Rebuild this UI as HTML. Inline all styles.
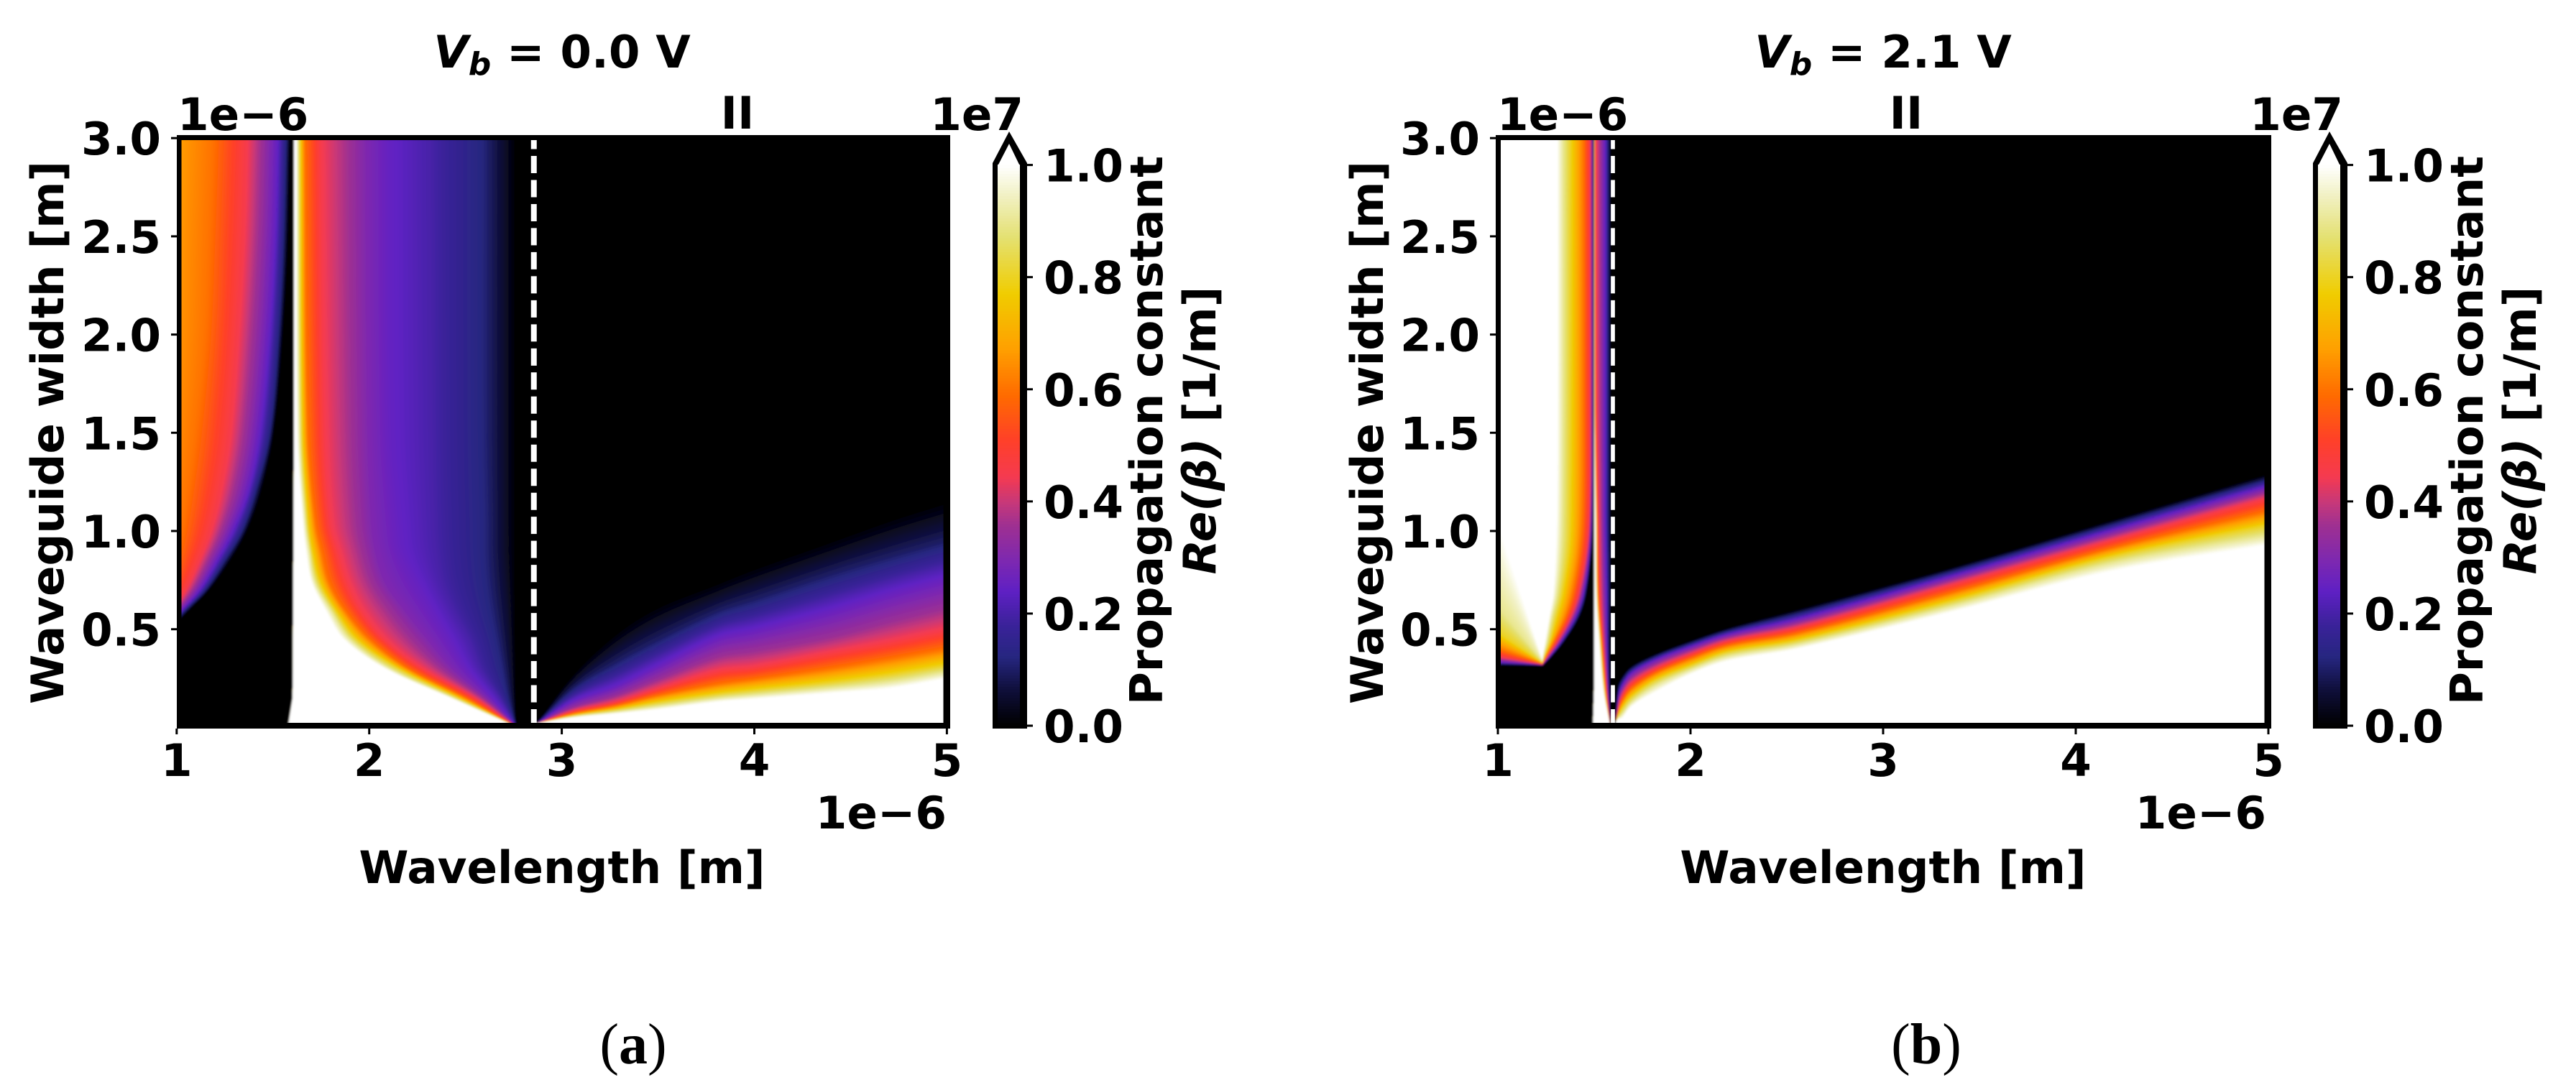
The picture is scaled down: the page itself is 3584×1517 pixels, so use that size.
<!DOCTYPE html>
<html lang="en">
<head>
<meta charset="utf-8">
<title>Propagation constant maps</title>
<style>
html,body{margin:0;padding:0;background:#fff;width:3584px;height:1517px;overflow:hidden}
svg{display:block}
text{font-family:"DejaVu Sans","Liberation Sans",sans-serif;font-weight:700;font-size:62.7px;fill:#000}
.serif{font-family:"Liberation Serif",serif;font-weight:400;font-size:80px}
</style>
</head>
<body>
<svg id="figure" xmlns="http://www.w3.org/2000/svg" width="3584" height="1517" viewBox="0 0 3584 1517">
<defs>
<filter id="soft" filterUnits="userSpaceOnUse" x="200" y="150" width="3000" height="900"><feGaussianBlur stdDeviation="1.4"/></filter>
<clipPath id="clip-a"><rect x="252" y="195" width="1060.5" height="811"/></clipPath>
<clipPath id="clip-b"><rect x="2088" y="195" width="1062.5" height="811"/></clipPath>
</defs>
<rect x="0" y="0" width="3584" height="1517" fill="#fff"/>
<g id="panel-a"></g>
<g id="panel-b"></g>

<text x="782" y="94" text-anchor="middle"><tspan font-style="italic">V</tspan><tspan font-style="italic" font-size="44" dy="10">b</tspan><tspan dy="-10"> = 0.0 V</tspan></text>
<text x="2620" y="94" text-anchor="middle"><tspan font-style="italic">V</tspan><tspan font-style="italic" font-size="44" dy="10">b</tspan><tspan dy="-10"> = 2.1 V</tspan></text>

<text x="1026" y="179" text-anchor="middle">II</text>
<text x="2652" y="179" text-anchor="middle">II</text>

<text x="247" y="181">1e−6</text>
<text x="2083" y="181">1e−6</text>
<text x="1424" y="181" text-anchor="end">1e7</text>
<text x="3260" y="181" text-anchor="end">1e7</text>
<text x="1317" y="1153" text-anchor="end">1e−6</text>
<text x="3153" y="1153" text-anchor="end">1e−6</text>

<text x="782" y="1229" text-anchor="middle">Wavelength [m]</text>
<text x="2620" y="1229" text-anchor="middle">Wavelength [m]</text>

<text transform="translate(88 602) rotate(-90)" text-anchor="middle">Waveguide width [m]</text>
<text transform="translate(1924 602) rotate(-90)" text-anchor="middle">Waveguide width [m]</text>

<text transform="translate(1617 599) rotate(-90)" text-anchor="middle">Propagation constant</text>
<text transform="translate(1691 599) rotate(-90)" text-anchor="middle"><tspan font-style="italic">Re(β)</tspan> [1/m]</text>
<text transform="translate(3454 599) rotate(-90)" text-anchor="middle">Propagation constant</text>
<text transform="translate(3528 599) rotate(-90)" text-anchor="middle"><tspan font-style="italic">Re(β)</tspan> [1/m]</text>

<text class="serif" x="881" y="1480" text-anchor="middle">(<tspan font-weight="700">a</tspan>)</text>
<text class="serif" x="2680" y="1480" text-anchor="middle">(<tspan font-weight="700">b</tspan>)</text>
</svg>

<script>
// ---------- tick data ----------
const xTickValues = [1, 2, 3, 4, 5];
const yTickValues = [0.5, 1.0, 1.5, 2.0, 2.5, 3.0];
const cbarTickValues = [0, 0.2, 0.4, 0.6, 0.8, 1.0];

// ---------- colour scale ----------
const cmapLevels = [0, .064, .123, .18, .24, .295, .36, .4, .445, .51, .588, .673, .77, .87, .95, 1];
const cmapColors = ['#000000','#0f0f3a','#262680','#3a2299','#5f20c4','#7d28b0','#a03090','#c83878','#f53a50','#ff4028','#ff6a00','#ffa000','#f0cc00','#e4e070','#f2f2c8','#ffffff'];

// ---------- panel (a) Vb = 0.0 V : iso-value contours ----------
const aBandEdgeLambda = [2.855];

const aLeftLevels = [0, .12, .25, .45, .6, .68];
const aLeftWidths = [3, 2.5, 2, 1.5, 1.2, 1, .85, .7, .6, .53, .4];
const aLeftContours = [
  [1.59, 1.57, 1.523, 1.366, 1.19, .99],
  [1.58, 1.555, 1.51, 1.35, 1.17, .96],
  [1.552, 1.53, 1.48, 1.32, 1.15, .94],
  [1.505, 1.485, 1.43, 1.28, 1.10, .91],
  [1.44, 1.41, 1.37, 1.23, 1.06, .89],
  [1.366, 1.34, 1.29, 1.18, 1.03, .87],
  [1.28, 1.25, 1.21, 1.12, 1.0, .86],
  [1.17, 1.15, 1.12, 1.05, .96, .85],
  [1.07, 1.05, 1.03, .98, .92, .8],
  [1.0, .98, .96, .92, .88, .8],
  [.85, .84, .83, .82, .81, .8]
];

const aMidLevels = [0, .05, .12, .2, .25, .3, .45, .6, .8, .9, 1];
const aMidWidths = [3, 1.5, 1.04, .9, .74, .6, .45, .3, .15, .02];
const aMidEdge = [1.61, 1.61, 1.608, 1.608, 1.606, 1.606, 1.605, 1.605, 1.603, 1.582];
const aMidContours = [
  [2.76, 2.70, 2.59, 2.32, 2.10, 1.98, 1.75, 1.665, 1.64, 1.63, 1.622],
  [2.76, 2.70, 2.59, 2.33, 2.11, 1.99, 1.77, 1.68, 1.65, 1.64, 1.625],
  [2.76, 2.70, 2.60, 2.34, 2.15, 2.01, 1.80, 1.72, 1.68, 1.67, 1.655],
  [2.76, 2.70, 2.60, 2.35, 2.17, 2.03, 1.84, 1.75, 1.70, 1.69, 1.67],
  [2.76, 2.71, 2.61, 2.38, 2.25, 2.08, 1.89, 1.79, 1.74, 1.72, 1.70],
  [2.76, 2.72, 2.63, 2.44, 2.33, 2.18, 1.96, 1.87, 1.82, 1.80, 1.77],
  [2.76, 2.73, 2.66, 2.52, 2.42, 2.30, 2.08, 2.0, 1.93, 1.90, 1.865],
  [2.76, 2.74, 2.69, 2.58, 2.51, 2.43, 2.28, 2.2, 2.15, 2.11, 2.08],
  [2.76, 2.75, 2.72, 2.68, 2.64, 2.61, 2.55, 2.5, 2.46, 2.44, 2.42],
  [2.76, 2.76, 2.76, 2.755, 2.75, 2.75, 2.74, 2.73, 2.73, 2.725, 2.72]
];

const aRightLevels = [0, .1, .25, .35, .45, .6, .8, 1];
const aRightLambdas = [2.87, 3.06, 3.28, 3.49, 3.81, 4.0, 4.4, 4.71, 5.0];
const aRightContours = [
  [.02, .02, .02, .02, .02, .02, .02, .02],
  [.27, .2, .135, .10, .085, .07, .06, .05],
  [.476, .33, .21, .16, .13, .11, .09, .07],
  [.61, .44, .31, .24, .195, .16, .125, .09],
  [.735, .59, .46, .36, .29, .22, .17, .13],
  [.81, .65, .50, .39, .31, .245, .19, .145],
  [.95, .78, .60, .46, .385, .30, .23, .175],
  [1.06, .87, .69, .54, .44, .35, .27, .20],
  [1.15, .95, .764, .61, .50, .40, .318, .25]
];

// ---------- panel (b) Vb = 2.1 V ----------
const bBandEdgeLambda = [1.597];

const bLeftLevels = [0, .25, .45, .6, .8, .9, 1];
const bLeftCuspLambda = [1.231];
const bLeftCuspWidths = [.316, .318, .32, .325, .33, .335, .345];
const bLeftEdgeWidths = [.316, .332, .36, .40, .484, .62, 1.04];
const bLeftWidths = [.36, .435, .56, .68, .92, 1.17, 1.65, 3];
const bLeftContours = [
  [1.277, 1.269, 1.256, 1.249, 1.240, 1.236, 1.231],
  [1.343, 1.327, 1.308, 1.290, 1.269, 1.256, 1.244],
  [1.423, 1.402, 1.377, 1.352, 1.302, 1.281, 1.265],
  [1.460, 1.445, 1.420, 1.389, 1.333, 1.308, 1.286],
  [1.485, 1.480, 1.464, 1.430, 1.368, 1.331, 1.300],
  [1.493, 1.488, 1.478, 1.443, 1.374, 1.337, 1.306],
  [1.495, 1.490, 1.480, 1.445, 1.377, 1.340, 1.308],
  [1.495, 1.490, 1.480, 1.445, 1.377, 1.340, 1.308]
];

const bMidLevels = [0, .25, .45, .6, .8, 1];
const bMidWidths = [3, 1.65, 1.29, 1.045, .68, .435, .19, .02];
const bMidEdge = [1.5, 1.5, 1.5, 1.5, 1.5, 1.5, 1.5, 1.495];
const bMidContours = [
  [1.586, 1.557, 1.510, 1.5025, 1.501, 1.500],
  [1.586, 1.557, 1.514, 1.505, 1.502, 1.501],
  [1.586, 1.557, 1.520, 1.510, 1.506, 1.504],
  [1.586, 1.557, 1.524, 1.515, 1.511, 1.507],
  [1.585, 1.563, 1.532, 1.520, 1.515, 1.510],
  [1.580, 1.566, 1.547, 1.539, 1.532, 1.526],
  [1.580, 1.573, 1.565, 1.5585, 1.553, 1.547],
  [1.582, 1.582, 1.581, 1.581, 1.580, 1.580]
];

const bRightLevels = [0, .25, .45, .6, .8, .9, 1];
const bRightLambdas = [1.613, 1.625, 1.644, 1.694, 1.818, 1.999, 2.191, 2.552, 3.36, 4.17, 5.0];
const bRightContours = [
  [.03, .03, .03, .03, .03, .03, .03],
  [.216, .15, .10, .08, .06, .05, .04],
  [.258, .21, .161, .130, .094, .069, .045],
  [.313, .277, .228, .197, .155, .130, .106],
  [.374, .344, .301, .276, .240, .215, .179],
  [.441, .411, .374, .350, .313, .295, .270],
  [.505, .473, .44, .416, .383, .363, .338],
  [.60, .552, .509, .478, .442, .423, .399],
  [.815, .772, .729, .687, .644, .62, .589],
  [1.05, 1.0, .95, .908, .866, .835, .792],
  [1.29, 1.23, 1.17, 1.10, 1.03, .98, .93]
];

// ---------- axis functions ----------
const xScaleA = l => 245.8 + 267.9 * (l - 1);
const xScaleB = l => 2084 + 268 * (l - 1);
const yScale = w => 1012.4 - 273.4 * w;
const cbarScale = v => 1010 - 780.4 * v;

const NS = 'http://www.w3.org/2000/svg';
const BAND_STEPS = 180;
function make(tag, parent, attrs) {
  const el = document.createElementNS(NS, tag);
  for (const k in attrs) el.setAttribute(k, attrs[k]);
  parent.appendChild(el);
  return el;
}
function hexToRgb(h) {
  return [parseInt(h.slice(1, 3), 16), parseInt(h.slice(3, 5), 16), parseInt(h.slice(5, 7), 16)];
}
function colorAt(v) {
  v = Math.max(0, Math.min(1, v));
  let i = 0;
  while (i < cmapLevels.length - 2 && v > cmapLevels[i + 1]) i++;
  const t = (v - cmapLevels[i]) / (cmapLevels[i + 1] - cmapLevels[i]);
  const a = hexToRgb(cmapColors[i]), b = hexToRgb(cmapColors[i + 1]);
  return 'rgb(' + a.map((c, k) => Math.round(c + (b[k] - c) * t)).join(',') + ')';
}
function atLevel(L, levels, vals) {
  let i = 0;
  while (i < levels.length - 2 && L > levels[i + 1]) i++;
  const t = (L - levels[i]) / (levels[i + 1] - levels[i]);
  return vals[i] + (vals[i + 1] - vals[i]) * t;
}
function dist(a, b) { return Math.hypot(a[0] - b[0], a[1] - b[1]) || 1e-6; }
function curveToPath(p) {
  let d = 'M' + p[0][0].toFixed(1) + ' ' + p[0][1].toFixed(1);
  for (let i = 0; i < p.length - 1; i++) {
    const p0 = p[i], p1 = p[i + 1], pr = p[i - 1] || p0, nx = p[i + 2] || p1;
    const d01 = dist(p0, p1), dp = i ? dist(pr, p0) : 0, dn = i + 2 < p.length ? dist(p1, nx) : 0;
    const c1x = p0[0] + (p1[0] - pr[0]) / (dp + d01) * d01 / 3, c1y = p0[1] + (p1[1] - pr[1]) / (dp + d01) * d01 / 3;
    const c2x = p1[0] - (nx[0] - p0[0]) / (d01 + dn) * d01 / 3, c2y = p1[1] - (nx[1] - p0[1]) / (d01 + dn) * d01 / 3;
    d += 'C' + c1x.toFixed(1) + ' ' + c1y.toFixed(1) + ' ' + c2x.toFixed(1) + ' ' + c2y.toFixed(1) + ' ' + p1[0].toFixed(1) + ' ' + p1[1].toFixed(1);
  }
  return d;
}
// Nested iso-value regions painted from the lowest level to the highest.
function drawBands(group, sx, regionName, levels, shapeFor) {
  const lo = levels[0], hi = levels[levels.length - 1], n = Math.max(8, Math.round((hi - lo) * BAND_STEPS));
  for (let s = 0; s <= n; s++) {
    const L = lo + (hi - lo) * s / n;
    const shape = shapeFor(L);
    const px = q => [sx(q[0]), yScale(q[1])];
    let d = curveToPath(shape.curve.map(px));
    shape.close.map(px).forEach(q => { d += 'L' + q[0].toFixed(1) + ' ' + q[1].toFixed(1); });
    const band = make('path', group, { d: d + 'Z', fill: colorAt(L + 0.5 / BAND_STEPS) });
    
    
  }
}
function rowsAt(L, levels, table) { return table.map(r => atLevel(L, levels, r)); }

function drawColorbar(parent, left) {
  const outer = make('polygon', parent, {
    points: [[left, 1014], [left, 227], [left + 23, 183], [left + 48, 227], [left + 48, 1014]].join(' '), fill: '#000'
  });
  
  
  const inner = make('polygon', parent, {
    points: [[left + 7, 1010], [left + 7, 231], [left + 23, 200], [left + 38, 231], [left + 38, 1010]].join(' '), fill: '#fff'
  });
  
  
  const steps = 200;
  for (let i = 0; i < steps; i++) {
    const v0 = i / steps, v1 = (i + 1) / steps;
    const seg = make('rect', parent, {
      x: left + 7, y: cbarScale(v1) - 0.5, width: 31, height: cbarScale(v0) - cbarScale(v1) + 1, fill: colorAt((v0 + v1) / 2)
    });
    
    
  }
  cbarTickValues.forEach(v => {
    const t = make('line', parent, { x1: left + 48, x2: left + 56, y1: cbarScale(v), y2: cbarScale(v), stroke: '#000', 'stroke-width': 3 });
    
    
    const lb = make('text', parent, { x: left + 71, y: cbarScale(v) + 23 });
    lb.textContent = v.toFixed(1);
    
    
  });
}

function drawFrame(parent, sx, box, yLabelRight) {
  const spines = [
    [box.l, box.t, box.il - box.l, box.b - box.t],
    [box.l, box.t, box.r - box.l, box.it - box.t],
    [box.ir, box.t, box.r - box.ir, box.b - box.t],
    [box.l, box.ib, box.r - box.l, box.b - box.ib]
  ];
  spines.forEach(s => {
    const sp = make('rect', parent, { x: s[0], y: s[1], width: s[2], height: s[3], fill: '#000' });
    
    
  });
  xTickValues.forEach(v => {
    const t = make('line', parent, { x1: sx(v), x2: sx(v), y1: box.b, y2: box.b + 8, stroke: '#000', 'stroke-width': 3 });
    
    
    const lb = make('text', parent, { x: sx(v), y: 1080, 'text-anchor': 'middle' });
    lb.textContent = String(v);
    
    
  });
  yTickValues.forEach(v => {
    const t = make('line', parent, { x1: box.l - 8, x2: box.l, y1: yScale(v), y2: yScale(v), stroke: '#000', 'stroke-width': 3 });
    
    
    const lb = make('text', parent, { x: yLabelRight, y: yScale(v) + 23, 'text-anchor': 'end' });
    lb.textContent = v.toFixed(1);
    
    
  });
}

// ---------- panel (a) ----------
(function () {
  const root = document.getElementById('panel-a');
  const clip = make('g', root, { 'clip-path': 'url(#clip-a)' });
  
  
  const heat = make('g', clip, { filter: 'url(#soft)' });
  
  
  const overflow = make('rect', heat, { x: 200, y: 150, width: 1180, height: 900, fill: '#000' });
  
  

  drawBands(heat, xScaleA, 'a-left-mode', aLeftLevels, L => {
    const v = rowsAt(L, aLeftLevels, aLeftContours);
    return {
      curve: aLeftWidths.map((w, i) => [v[i], w]),
      close: [[.7, aLeftWidths[aLeftWidths.length - 1]], [.7, 3.3], [v[0], 3.3]]
    };
  });
  drawBands(heat, xScaleA, 'a-mid-mode', aMidLevels, L => {
    const v = rowsAt(L, aMidLevels, aMidContours);
    const edge = aMidWidths.map((w, i) => [aMidEdge[i], w]).reverse();
    return {
      curve: aMidWidths.map((w, i) => [v[i], w]),
      close: [[v[v.length - 1], 0], [edge[0][0], 0]].concat(edge, [[aMidEdge[0], 3.3], [v[0], 3.3]])
    };
  });
  drawBands(heat, xScaleA, 'a-right-mode', aRightLevels, L => {
    const v = rowsAt(L, aRightLevels, aRightContours);
    return {
      curve: aRightLambdas.map((l, i) => [l, v[i]]),
      close: [[5.2, v[v.length - 1]], [5.2, 0], [aRightLambdas[0], 0]]
    };
  });
  const dash = make('line', clip, {
    x1: xScaleA(aBandEdgeLambda[0]), x2: xScaleA(aBandEdgeLambda[0]), y1: 183.5, y2: 1006,
    stroke: '#fff', 'stroke-width': 8, 'stroke-dasharray': '24 9.48'
  });
  
  
  drawFrame(root, xScaleA, { l: 246, il: 252.5, t: 188, it: 195, r: 1322, ir: 1312.5, b: 1014, ib: 1006 }, 224);
  drawColorbar(root, 1381);
})();

// ---------- panel (b) ----------
(function () {
  const root = document.getElementById('panel-b');
  const clip = make('g', root, { 'clip-path': 'url(#clip-b)' });
  
  
  const heat = make('g', clip, { filter: 'url(#soft)' });
  
  
  const overflow = make('rect', heat, { x: 2040, y: 150, width: 1150, height: 900, fill: '#000' });
  
  

  drawBands(heat, xScaleB, 'b-left-mode', bLeftLevels, L => {
    const v = rowsAt(L, bLeftLevels, bLeftContours);
    const cw = atLevel(L, bLeftLevels, bLeftCuspWidths);
    const ew = atLevel(L, bLeftLevels, bLeftEdgeWidths);
    const top = v[v.length - 1];
    return {
      curve: [[bLeftCuspLambda[0], cw]].concat(bLeftWidths.map((w, i) => [v[i], w])),
      close: [[top, 3.3], [.85, 3.3], [.85, ew + (ew - cw) * .15 / (bLeftCuspLambda[0] - 1)], [1, ew]]
    };
  });
  drawBands(heat, xScaleB, 'b-mid-mode', bMidLevels, L => {
    const v = rowsAt(L, bMidLevels, bMidContours);
    const edge = bMidWidths.map((w, i) => [bMidEdge[i], w]).reverse();
    return {
      curve: bMidWidths.map((w, i) => [v[i], w]),
      close: [[v[v.length - 1], 0], [edge[0][0], 0]].concat(edge, [[bMidEdge[0], 3.3], [v[0], 3.3]])
    };
  });
  drawBands(heat, xScaleB, 'b-right-mode', bRightLevels, L => {
    const v = rowsAt(L, bRightLevels, bRightContours);
    return {
      curve: bRightLambdas.map((l, i) => [l, v[i]]),
      close: [[5.2, v[v.length - 1]], [5.2, 0], [bRightLambdas[0], 0]]
    };
  });
  const dash = make('line', clip, {
    x1: xScaleB(bBandEdgeLambda[0]), x2: xScaleB(bBandEdgeLambda[0]), y1: 183.5, y2: 1006,
    stroke: '#fff', 'stroke-width': 5.7, 'stroke-dasharray': '24 9.48'
  });
  
  
  drawFrame(root, xScaleB, { l: 2081, il: 2088, t: 188, it: 195, r: 3160, ir: 3150.5, b: 1014, ib: 1006 }, 2059);
  drawColorbar(root, 3218);
})();
</script>
</body>
</html>
